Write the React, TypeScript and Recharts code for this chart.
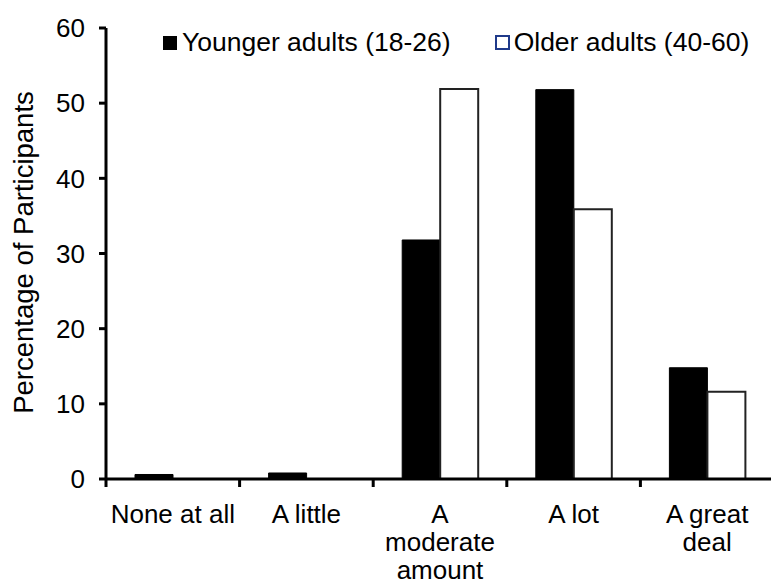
import React from 'react';
import { BarChart, Bar, XAxis, YAxis } from 'recharts';

const categories = ['None at all', 'A little', 'A moderate amount', 'A lot', 'A great deal'];
const categoryLines = [['None at all'], ['A little'], ['A', 'moderate', 'amount'], ['A lot'], ['A great', 'deal']];
const younger = [0.6, 0.8, 31.8, 51.8, 14.8];
const older = [0, 0, 51.9, 35.9, 11.6];
const yTicks = [0, 10, 20, 30, 40, 50, 60];
const seriesNames = ['Younger adults (18-26)', 'Older adults (40-60)'];
const yLabel = 'Percentage of Participants';

const data = categories.map((c, i) => ({ name: c, younger: younger[i], older: older[i] }));

const FONT = 'Arial, "Liberation Sans", sans-serif';

const XTick = (props: any) => {
  const { x, y, index, width, visibleTicksCount } = props;
  const band = width / visibleTicksCount;
  const lines = categoryLines[index] || [];
  return (
    <g>
      <line x1={x - band / 2} x2={x - band / 2} y1={y} y2={y + 8} stroke="#000" strokeWidth={3} />
      {index === visibleTicksCount - 1 && (
        <line x1={x + band / 2} x2={x + band / 2} y1={y} y2={y + 8} stroke="#000" strokeWidth={3} />
      )}
      {lines.map((l: string, i: number) => (
        <text key={i} x={x} y={y + 44 + i * 28} textAnchor="middle" fontSize={26} fontFamily={FONT} fill="#000">
          {l}
        </text>
      ))}
    </g>
  );
};

const YLabel = (props: any) => {
  const vb = props.viewBox || {};
  const cx = (vb.x || 0) + 23;
  const cy = (vb.y || 0) + (vb.height || 0) / 2 - 1;
  return (
    <text
      x={cx}
      y={cy}
      transform={`rotate(-90, ${cx}, ${cy})`}
      textAnchor="middle"
      dominantBaseline="central"
      fontSize={27.5}
      fontFamily={FONT}
      fill="#000"
    >
      {yLabel}
    </text>
  );
};

export default function App() {
  return (
    <div style={{ position: 'absolute', left: 0, top: 0, width: 771, height: 588, overflow: 'hidden', background: '#fff' }}>
      <BarChart
        width={774}
        height={588}
        data={data}
        margin={{ top: 28, right: 0, bottom: 0, left: 0 }}
        barGap={0}
        barSize={38}
      >
        <YAxis
          width={106}
          domain={[0, 60]}
          ticks={yTicks}
          interval={0}
          axisLine={{ stroke: '#000', strokeWidth: 3 }}
          tickLine={{ stroke: '#000', strokeWidth: 3 }}
          tickSize={7}
          tickMargin={14}
          tick={{ fontSize: 26, fontFamily: FONT, fill: '#000' }}
          label={<YLabel />}
        />
        <XAxis
          dataKey="name"
          height={109}
          interval={0}
          axisLine={{ stroke: '#000', strokeWidth: 3 }}
          tickLine={false}
          tickSize={0}
          tickMargin={0}
          tick={<XTick />}
        />
        <Bar dataKey="younger" fill="#000" stroke="#000" strokeWidth={1} isAnimationActive={false} />
        <Bar dataKey="older" fill="#fff" stroke="#222" strokeWidth={2} isAnimationActive={false} />
      </BarChart>
      <div
        style={{
          position: 'absolute',
          left: 163,
          top: 27,
          display: 'flex',
          alignItems: 'center',
          fontFamily: FONT,
          fontSize: 26.5,
          color: '#000',
          whiteSpace: 'nowrap',
        }}
      >
        <span style={{ display: 'inline-block', width: 14, height: 14, background: '#000', marginRight: 5 }} />
        <span>{seriesNames[0]}</span>
        <span style={{ display: 'inline-block', width: 11, height: 11, border: '2px solid #1f3a8a', background: '#fff', marginLeft: 44, marginRight: 4 }} />
        <span>{seriesNames[1]}</span>
      </div>
    </div>
  );
}
